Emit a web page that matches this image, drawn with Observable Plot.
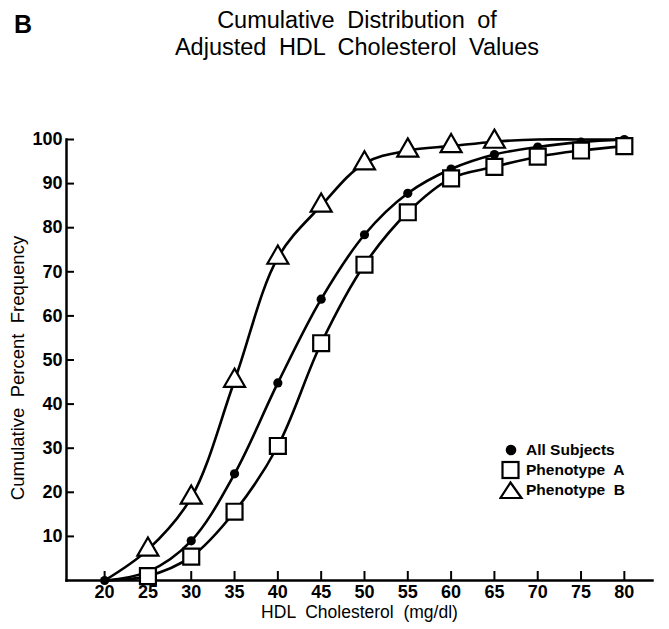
<!DOCTYPE html>
<html><head><meta charset="utf-8">
<script src="https://cdn.jsdelivr.net/npm/d3@7"></script>
<script src="https://cdn.jsdelivr.net/npm/@observablehq/plot@0.6"></script>
<style>
body{margin:0;background:#fff;font-family:"Liberation Sans",Arial,sans-serif;color:#000}
#wrap{position:relative;width:669px;height:629px;overflow:hidden;background:#fff}
#panel{position:absolute;left:14px;top:10px;font-size:25px;font-weight:bold;line-height:28px}
#title{position:absolute;left:0;width:714px;top:7px;text-align:center;font-size:23.5px;line-height:27px;word-spacing:6px}
#chart{position:absolute;left:0;top:0}
#legend{position:absolute;left:499px;top:440px;font-size:15.5px;font-weight:bold;line-height:20px}
#legend div{display:flex;align-items:center;height:20px}
#legend svg{width:25px;height:20px;margin-right:2px}
</style>
</head><body>
<div id="wrap">
  <div id="chart"></div>
  <div id="panel">B</div>
  <div id="title">Cumulative Distribution of<br>Adjusted HDL Cholesterol Values</div>
  <div id="legend"></div>
</div>
<script>
// HDL cholesterol (mg/dl) at each plotted point
const hdl = [20, 25, 30, 35, 40, 45, 50, 55, 60, 65, 70, 75, 80];
// cumulative percent frequency
const allSubjects = [0, 2, 9, 24.2, 44.8, 63.8, 78.4, 87.8, 93.3, 96.6, 98.3, 99.4, 100];
const phenotypeA  = [0, 1, 5.4, 15.6, 30.5, 53.8, 71.6, 83.5, 91.2, 93.8, 96.1, 97.5, 98.5];
const phenotypeB  = [0, 7, 18.8, 45.3, 73.2, 85, 94.6, 97.5, 98.5, 99.5, 100, 100, 100];
// range of HDL values at which markers are drawn
const markersAll = [20, 80];
const markersA = [25, 80];
const markersB = [25, 65];
const seriesNames = ["All Subjects", "Phenotype A", "Phenotype B"];
const xTicks = [20, 25, 30, 35, 40, 45, 50, 55, 60, 65, 70, 75, 80];
const yTicks = [10, 20, 30, 40, 50, 60, 70, 80, 90, 100];

const rows = (vals, name, range) => hdl.map((x, i) => ({x, y: vals[i], series: name, marked: x >= range[0] && x <= range[1]}));
const dAll = rows(allSubjects, seriesNames[0], markersAll);
const dA = rows(phenotypeA, seriesNames[1], markersA);
const dB = rows(phenotypeB, seriesNames[2], markersB);

const font = '"Liberation Sans", Arial, sans-serif';
const plot = Plot.plot({
  width: 669,
  height: 629,
  marginTop: 139,
  marginBottom: 49,
  marginLeft: 66,
  marginRight: 17,
  style: {fontFamily: font, background: "white", color: "black", overflow: "visible"},
  x: {domain: [15.6, 83.25]},
  y: {domain: [0, 100]},
  marks: [
    Plot.axisY(yTicks, {tickSize: -8, strokeWidth: 2, fill: "none", label: null}),
    Plot.axisY(yTicks, {tickSize: 0, tickPadding: 4, fontSize: 18, fontWeight: "bold", label: null}),
    Plot.axisX(xTicks, {tickSize: -9, strokeWidth: 2, fill: "none", label: null}),
    Plot.axisX(xTicks, {tickSize: 0, tickPadding: 5, fontSize: 18, fontWeight: "bold", label: null}),
    Plot.frame({anchor: "left", strokeWidth: 2.5}),
    Plot.frame({anchor: "bottom", strokeWidth: 2.5}),
    Plot.text(["Cumulative  Percent  Frequency"], {frameAnchor: "left", textAnchor: "middle", rotate: -90, dx: -48, dy: 8, fontSize: 18.5}),
    Plot.text(["HDL  Cholesterol  (mg/dl)"], {frameAnchor: "bottom", textAnchor: "middle", dy: 37, fontSize: 17.5}),
    Plot.line(dB, {x: "x", y: "y", curve: "catmull-rom", strokeWidth: 2.6, stroke: "black"}),
    Plot.line(dAll, {x: "x", y: "y", curve: "catmull-rom", strokeWidth: 2.6, stroke: "black"}),
    Plot.line(dA, {x: "x", y: "y", curve: "catmull-rom", strokeWidth: 2.6, stroke: "black"}),
    Plot.dot(dAll.filter(d => d.marked), {x: "x", y: "y", r: 4.6, fill: "black", stroke: "none"}),
    Plot.dot(dA.filter(d => d.marked), {x: "x", y: "y", symbol: "square", r: 9, fill: "white", stroke: "black", strokeWidth: 2.2}),
    Plot.dot(dB.filter(d => d.marked), {x: "x", y: "y", symbol: "triangle", r: 7.8, fill: "white", stroke: "black", strokeWidth: 2.2})
  ]
});
document.getElementById("chart").appendChild(plot);
plot.querySelectorAll("text").forEach(t => t.style.whiteSpace = "pre");

// legend
const legendSymbols = [
  '<circle cx="12" cy="10" r="5.3" fill="black"/>',
  '<rect x="3.5" y="2" width="16" height="16" fill="white" stroke="black" stroke-width="2.2"/>',
  '<path d="M11.5 2.5 L22.5 18 L1.5 18 Z" fill="white" stroke="black" stroke-width="2.2"/>'
];
const legend = document.getElementById("legend");
seriesNames.forEach((name, i) => {
  const row = document.createElement("div");
  row.innerHTML = `<svg viewBox="0 0 25 20">${legendSymbols[i]}</svg><span>${name.replace(" A", "&nbsp; A").replace(" B", "&nbsp; B")}</span>`;
  legend.appendChild(row);
});
</script>
</body></html>
